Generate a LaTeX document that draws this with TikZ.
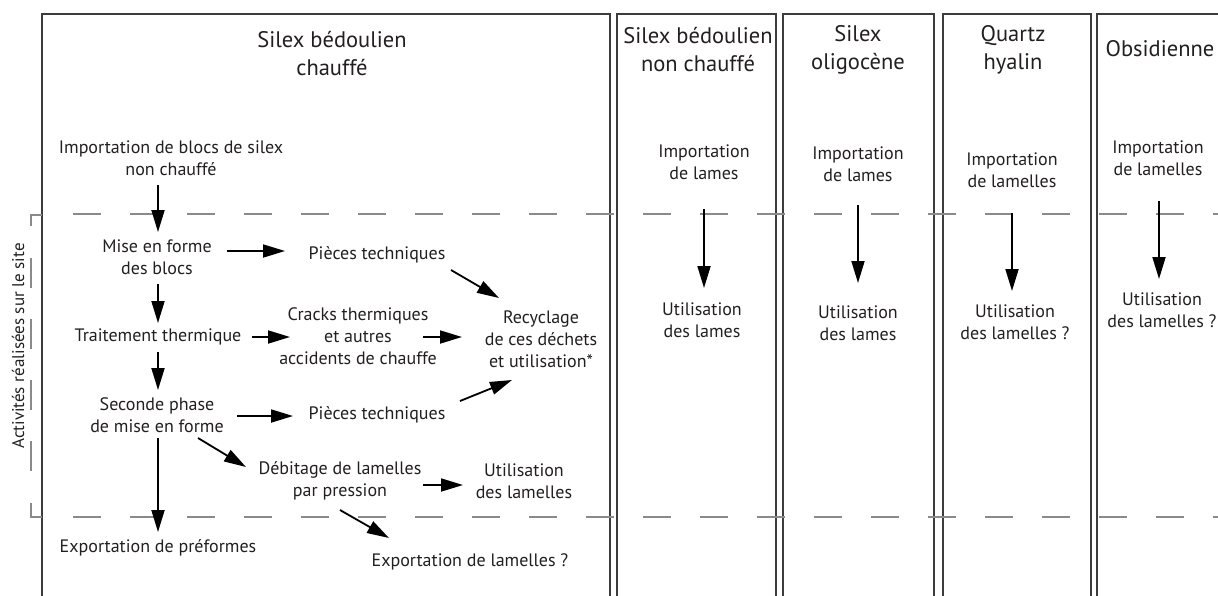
\documentclass[tikz,border=0pt]{standalone}
\usepackage{fontspec}
\setmainfont{PT Sans}
\usetikzlibrary{arrows.meta}
\definecolor{inkc}{HTML}{231F20}
\definecolor{framec}{HTML}{3C3C3C}
\definecolor{dashc}{HTML}{8A8A8A}
\tikzset{
  every node/.style={inner sep=0pt, align=center, text=inkc,
    font=\fontsize{18}{22}\selectfont},
  title/.style={font=\fontsize{22.5}{28}\selectfont},
  sidelabel/.style={rotate=90, font=\fontsize{17}{20}\selectfont},
  arr/.style={draw=black, line width=1.8pt, -{Triangle[length=22pt,width=13pt]}},
  frame/.style={draw=framec, line width=1.6pt},
  limit/.style={draw=dashc, line width=1.8pt},
}
\begin{document}
\begin{tikzpicture}[x=1pt, y=-1pt]
      \useasboundingbox (0,0) rectangle (1218,595);
      \clip (0,0) rectangle (1218,595);
      \draw[frame] (42,600) -- (42,14) -- (610,14) -- (610,600);
      \draw[frame] (617,600) -- (617,14) -- (776,14) -- (776,600);
      \draw[frame] (783,600) -- (783,14) -- (934,14) -- (934,600);
      \draw[frame] (943,600) -- (943,14) -- (1091,14) -- (1091,600);
      \draw[frame] (1097,600) -- (1097,14) -- (1240,14);
      \draw[limit, dash pattern=on 28pt off 29pt] (73,214) -- (1218,214);
      \draw[limit, dash pattern=on 28pt off 29pt] (73,517) -- (1218,517);
      \draw[limit] (42,215) -- (31,215) -- (31,226);
      \draw[limit, dash pattern=on 30pt off 31pt] (31,258) -- (31,472);
      \draw[limit] (31,503) -- (31,517) -- (42,517);
      \draw
        (332,54) node[title] (silexc) {Silex bédoulien\\chauffé}
        (698,50) node[title] (silexnc) {Silex bédoulien\\non chauffé}
        (858,50) node[title] (oligo) {Silex\\oligocène}
        (1013,50) node[title] (quartz) {Quartz\\hyalin}
        (1160,49) node[title] (obsi) {Obsidienne}
        (18,346) node[sidelabel] (site) {Activités réalisées sur le site};
      \draw
        (171,158) node (imp) {Importation de blocs de silex\\non chauffé}
        (157,257) node (mise) {Mise en forme\\des blocs}
        (377,255) node (pt1) {Pièces techniques}
        (541,339) node (rec) {Recyclage\\de ces déchets\\et utilisation*}
        (158,337) node (trait) {Traitement thermique}
        (358,336) node (cracks) {Cracks thermiques\\et autres\\accidents de chauffe}
        (157,415) node (sec) {Seconde phase\\de mise en forme}
        (377,415) node (pt2) {Pièces techniques}
        (340,481) node (deb) {Débitage de lamelles\\par pression}
        (524,481) node (util) {Utilisation\\des lamelles}
        (158,548) node (expp) {Exportation de préformes}
        (470,562) node (expl) {Exportation de lamelles ?};
      \draw
        (704,162) node (imp2) {Importation\\de lames}
        (702,320) node (util2) {Utilisation\\des lames}
        (858,164) node (imp3) {Importation\\de lames}
        (858,323) node (util3) {Utilisation\\des lames}
        (1012,170) node (imp4) {Importation\\de lamelles}
        (1015,322) node (util4) {Utilisation\\des lamelles ?}
        (1158,158) node (imp5) {Importation\\de lamelles}
        (1162,310) node (util5) {Utilisation\\des lamelles ?};
      \begin{scope}[arr]
        \draw ([shift={(-13,27)}]imp.center) to ([shift={(1,-25)}]mise.center);
        \draw ([shift={(70,-6)}]mise.center) to ([shift={(-92,-4)}]pt1.center);
        \draw ([shift={(74,15)}]pt1.center) to ([shift={(-42,-41)}]rec.center);
        \draw ([shift={(1,27)}]mise.center) to ([shift={(0,-14)}]trait.center);
        \draw ([shift={(94,0)}]trait.center) to ([shift={(-68,1)}]cracks.center);
        \draw ([shift={(65,1)}]cracks.center) to ([shift={(-79,-2)}]rec.center);
        \draw ([shift={(0,15)}]trait.center) to ([shift={(1,-25)}]sec.center);
        \draw ([shift={(80,1)}]sec.center) to ([shift={(-84,1)}]pt2.center);
        \draw ([shift={(83,-14)}]pt2.center) to ([shift={(-29,41)}]rec.center);
        \draw ([shift={(41,23)}]sec.center) to ([shift={(-94,-14)}]deb.center);
        \draw ([shift={(83,4)}]deb.center) to ([shift={(-61,4)}]util.center);
        \draw ([shift={(1,23)}]sec.center) to ([shift={(0,-16)}]expp.center);
        \draw ([shift={(0,29)}]deb.center) to ([shift={(-81,-24)}]expl.center);
        \draw ([shift={(0,47)}]imp2.center) to ([shift={(2,-32)}]util2.center);
        \draw ([shift={(0,41)}]imp3.center) to ([shift={(0,-40)}]util3.center);
        \draw ([shift={(0,43)}]imp4.center) to ([shift={(-3,-31)}]util4.center);
        \draw ([shift={(1,43)}]imp5.center) to ([shift={(-3,-31)}]util5.center);
      \end{scope}
    \end{tikzpicture}
\end{document}
